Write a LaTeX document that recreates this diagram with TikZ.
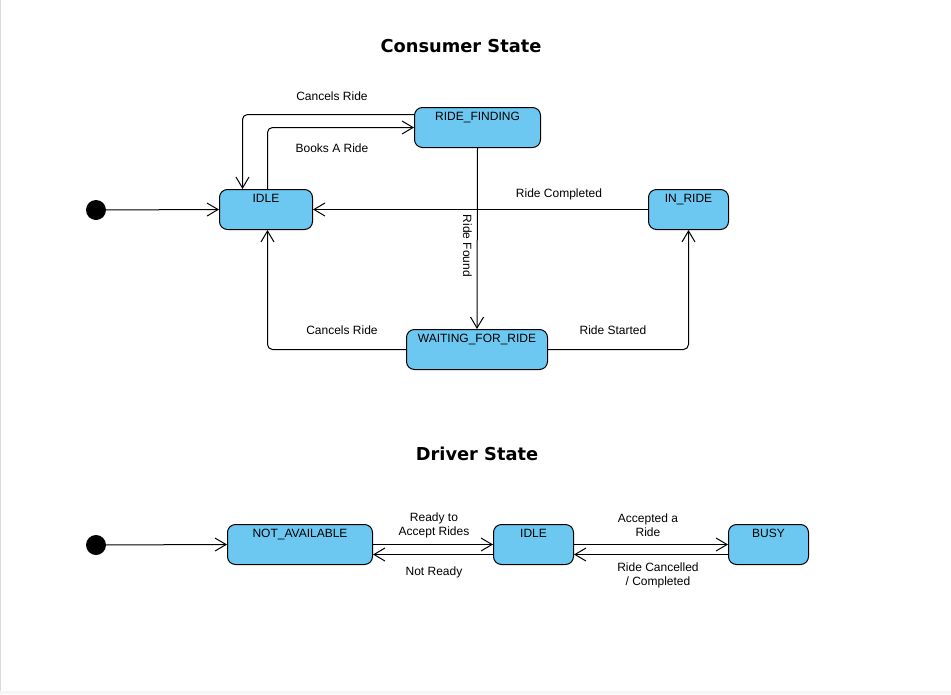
\documentclass[tikz,border=0pt]{standalone}
\usepackage{fontspec}
\setmainfont{Liberation Sans}
\newfontfamily\titlefont{DejaVu Sans}
\usetikzlibrary{arrows.meta}
\definecolor{stateblue}{RGB}{108,200,240}

\begin{document}
\begin{tikzpicture}[
  x=1pt, y=-1pt,
  state/.style={
    draw, line width=1pt, fill=stateblue, rounded corners=8pt,
    minimum height=40pt, inner ysep=4pt, inner xsep=2pt,
    text height=9pt, text depth=23pt, anchor=north west,
    font=\fontsize{12}{14}\selectfont
  },
  start/.style={circle, fill=black, minimum size=20pt, inner sep=0pt},
  lbl/.style={font=\fontsize{12}{14}\selectfont, align=center, inner sep=1pt},
  title/.style={font=\titlefont\bfseries\fontsize{17.8}{20}\selectfont},
  trans/.style={draw, line width=1pt, rounded corners=5pt,
    -{Straight Barb[length=11pt,width=13pt,line width=1pt]}},
]

% Frame
\useasboundingbox (0,0) rectangle (951,694);
\fill[black!4] (0,691) rectangle (951,694);
\draw[black!15, line width=1pt] (0.5,0) -- (0.5,691);

% Consumer state machine
\node[title] (ctitle) at (461,46) {Consumer State};

\node[start] (cstart) at (96,210) {};
\node[state, minimum width=93pt] (idle) at (219,189) {IDLE};
\node[state, minimum width=126pt] (rfind) at (414,107) {RIDE\_FINDING};
\node[state, minimum width=80pt] (inride) at (648,189) {IN\_RIDE};
\node[state, minimum width=141pt] (wait) at (406,329) {WAITING\_FOR\_RIDE};

\draw[trans] (cstart) -- (idle.west);
\draw[trans] ([yshift=13pt]rfind.west) -| ([xshift=-23.5pt]idle.north);
\draw[trans] ([xshift=1.5pt]idle.north) |- (rfind.west);
\draw[trans] (rfind.south) -- (wait.north);
\draw[trans] (inride.west) -- (idle.east);
\draw[trans] (wait.west) -| ([xshift=1.5pt]idle.south);
\draw[trans] (wait.east) -| (inride.south);

\node[lbl] (lcancel) at (332,96) {Cancels Ride};
\node[lbl] (lbook) at (332,148) {Books A Ride};
\node[lbl, rotate=-90] (lfound) at (467.5,246) {Ride Found};
\node[lbl] (ldone) at (559,194) {Ride Completed};
\node[lbl] (lcancel2) at (342,330) {Cancels Ride};
\node[lbl] (lstart) at (613,330) {Ride Started};

% Driver state machine
\node[title] (dtitle) at (477,454) {Driver State};

\node[start] (dstart) at (96,545) {};
\node[state, minimum width=145pt] (navail) at (227,524) {NOT\_AVAILABLE};
\node[state, minimum width=80pt] (didle) at (493,524) {IDLE};
\node[state, minimum width=80pt] (busy) at (728,524) {BUSY};

\draw[trans] (dstart) -- (navail.west);
\draw[trans] (navail.east) -- (didle.west);
\draw[trans] ([yshift=-10pt]didle.west) -- ([yshift=-10pt]navail.east);
\draw[trans] (didle.east) -- (busy.west);
\draw[trans] ([yshift=-10pt]busy.west) -- ([yshift=-10pt]didle.east);

\node[lbl] (lready) at (434,525) {Ready to\\Accept Rides};
\node[lbl] (lnot) at (434,572) {Not Ready};
\node[lbl] (laccept) at (648,525) {Accepted a\\Ride};
\node[lbl] (lfree) at (658,575) {Ride Cancelled\\/ Completed};

\end{tikzpicture}
\end{document}
